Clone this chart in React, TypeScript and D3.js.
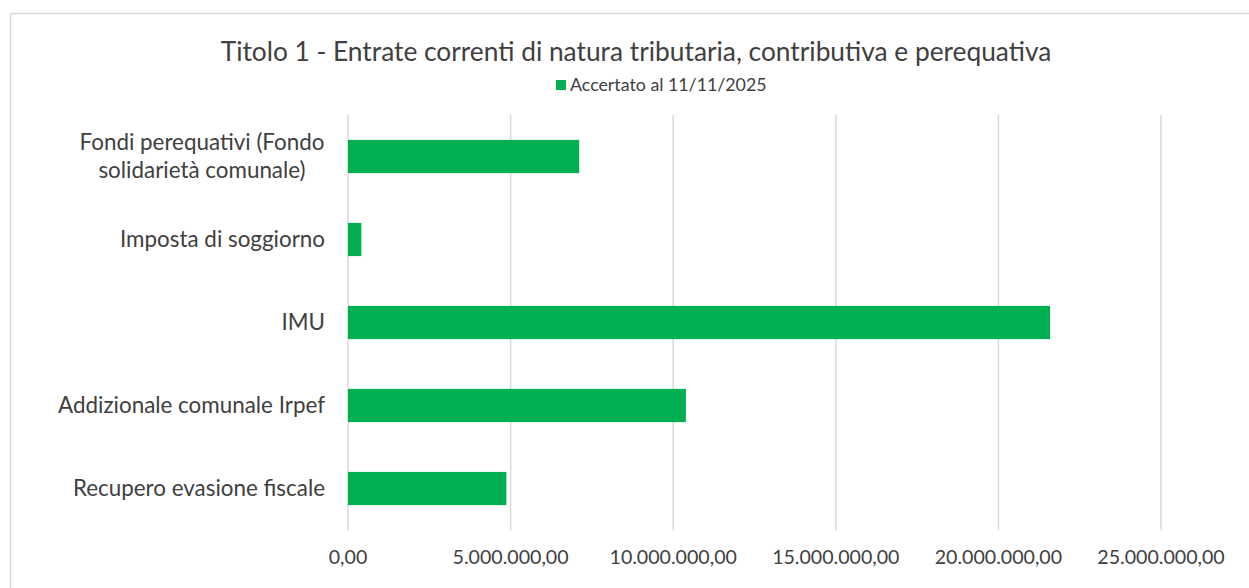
import React from 'react';
import * as d3 from 'd3';

const categories = [
  'Fondi perequativi (Fondo\nsolidarietà comunale)',
  'Imposta di soggiorno',
  'IMU',
  'Addizionale comunale Irpef',
  'Recupero evasione fiscale',
];
const accertato = [7110000, 410000, 21590000, 10390000, 4870000];
const xTicks = [0, 5000000, 10000000, 15000000, 20000000, 25000000];

const title = 'Titolo 1 - Entrate correnti di natura tributaria, contributiva e perequativa';
const seriesName = 'Accertato al 11/11/2025';

const itLocale = d3.formatLocale({ decimal: ',', thousands: '.', grouping: [3], currency: ['€', ''] });
const fmt = itLocale.format(',.2f');

const W = 1249;
const H = 588;
const FONT = 'Lato, "Open Sans", sans-serif';
const TXT = '#404040';

export default function App() {
  const margin = { top: 115, left: 348, right: 88, bottom: 58 };

  const x = d3.scaleLinear()
    .domain([0, 25000000])
    .range([margin.left, W - margin.right]);

  const y = d3.scaleBand()
    .domain(categories)
    .range([margin.top, H - margin.bottom])
    .paddingInner(0.6)
    .paddingOuter(0.3);

  const data = categories.map((c, i) => ({ cat: c, value: accertato[i] }));

  return (
    <div style={{ position: 'absolute', left: 0, top: 0 }}>
      <svg width={W} height={H} style={{ display: 'block', background: '#fff' }}>
        {/* chart frame */}
        <line x1={10.5} y1={13.5} x2={W} y2={13.5} stroke="#d9d9d9" strokeWidth={1.5} />
        <line x1={10.5} y1={13.5} x2={10.5} y2={H} stroke="#d9d9d9" strokeWidth={1.5} />

        <text x={636} y={61} textAnchor="middle" fontFamily={FONT} fontSize={26.3} fill={TXT}>
          {title}
        </text>

        <rect x={556} y={80} width={10} height={10} fill="#00b050" />
        <text x={570} y={91} fontFamily={FONT} fontSize={17.8} fill={TXT}>
          {seriesName}
        </text>

        {xTicks.map(t => (
          <g key={t}>
            <line x1={x(t)} x2={x(t)} y1={margin.top} y2={H - margin.bottom}
              stroke="#d9d9d9" strokeWidth={1.5} />
            <text x={x(t)} y={H - 24} textAnchor="middle" fontFamily={FONT} fontSize={19.6} fill={TXT}>
              {fmt(t)}
            </text>
          </g>
        ))}

        {data.map(d => (
          <rect key={d.cat} x={x(0)} y={y(d.cat)} width={x(d.value) - x(0)}
            height={y.bandwidth()} fill="#00b050" />
        ))}

        {categories.map(c => {
          const lines = c.split('\n');
          const cy = (y(c) as number) + y.bandwidth() / 2;
          const lh = 28;
          if (lines.length === 1) {
            return (
              <text key={c} x={325} y={cy} dy="0.35em" textAnchor="end" fontFamily={FONT}
                fontSize={22.4} fill={TXT}>{c}</text>
            );
          }
          return (
            <text key={c} x={202} textAnchor="middle" fontFamily={FONT} fontSize={22.4} fill={TXT}>
              {lines.map((l, i) => (
                <tspan key={i} x={202} y={cy + (i - (lines.length - 1) / 2) * lh} dy="0.35em">{l}</tspan>
              ))}
            </text>
          );
        })}
      </svg>
    </div>
  );
}
